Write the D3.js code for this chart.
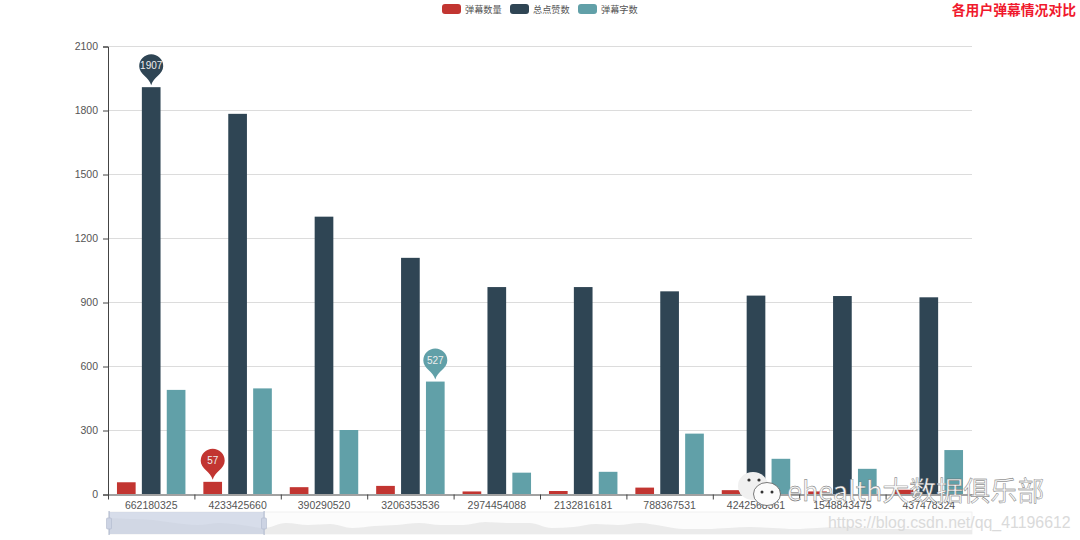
<!DOCTYPE html>
<html>
<head>
<meta charset="utf-8">
<script src="https://cdn.jsdelivr.net/npm/d3@7"></script>
<style>
  html, body { margin: 0; padding: 0; background: #fff; }
  svg { display: block; font-family: "Liberation Sans", "Noto Sans CJK SC", sans-serif; }
</style>
</head>
<body>
<svg width="1080" height="540"></svg>
<script>
const users = ["662180325", "4233425660", "390290520", "3206353536", "2974454088", "2132816181", "788367531", "4242568361", "1548843475", "437478324"];
const danmuCount = [55, 57, 32, 38, 12, 14, 30, 18, 12, 20];
const likeTotal = [1907, 1782, 1300, 1107, 970, 970, 950, 930, 928, 922];
const danmuChars = [488, 495, 300, 527, 100, 104, 283, 165, 118, 206];
const seriesNames = ["弹幕数量", "总点赞数", "弹幕字数"];
const seriesColors = ["#c23531", "#2f4554", "#61a0a8"];
const yTicks = [0, 300, 600, 900, 1200, 1500, 1800, 2100];
// overview strip of the slider, read left to right
const sliderShadow = [16, 15, 14, 11, 9, 11, 9, 6, 11, 9, 10, 6, 8, 9, 11, 9, 9, 12, 11, 11, 6, 7, 10, 9, 11, 8, 5, 5, 6, 7, 6, 5, 6, 7, 6, 5, 5, 4, 4, 4];

const svg = d3.select("svg");
const x0 = d3.scaleBand().domain(users).range([108, 972]);
const x1 = d3.scaleBand().domain(seriesNames).range([0, x0.bandwidth()]).paddingInner(0.25).paddingOuter(0.36);
const y = d3.scaleLinear().domain([0, 2100]).range([494, 46]);

// grid
svg.append("g").selectAll("line").data(yTicks.slice(1)).join("line")
  .attr("x1", 108).attr("x2", 972)
  .attr("y1", d => y(d) + 0.5).attr("y2", d => y(d) + 0.5)
  .attr("stroke", "#dcdcdc");

// bars
const allSeries = [danmuCount, likeTotal, danmuChars];
allSeries.forEach((values, s) => {
  svg.append("g").selectAll("rect").data(values).join("rect")
    .attr("x", (d, i) => x0(users[i]) + x1(seriesNames[s]))
    .attr("y", d => y(d))
    .attr("width", x1.bandwidth())
    .attr("height", d => y(0) - y(d))
    .attr("fill", seriesColors[s]);
});

// axes
const yAxis = d3.axisLeft(y).tickValues(yTicks).tickFormat(d3.format("d")).tickSize(5).tickPadding(5);
const gy = svg.append("g").attr("transform", "translate(108,0.5)").call(yAxis);
const xAxis = d3.axisBottom(x0).tickSize(0).tickPadding(7);
const gx = svg.append("g").attr("transform", "translate(0,494.5)").call(xAxis);
gx.append("g").selectAll("line").data(users).join("line")
  .attr("x1", d => x0(d) + 0.5).attr("x2", d => x0(d) + 0.5)
  .attr("y1", 0).attr("y2", 5).attr("stroke", "#444");
[gy, gx].forEach(g => {
  g.selectAll("text").attr("fill", "#555").attr("font-size", 10.5).attr("font-family", "Liberation Sans");
  g.selectAll(".domain").attr("stroke", "#444");
  g.selectAll(".tick line").attr("stroke", "#444");
});

// max markers
const pin = "M0,0 C-2,-8 -12,-11 -12,-19 A12,12 0 1 1 12,-19 C12,-11 2,-8 0,0 Z";
const markers = [
  { s: 1, i: 0, values: likeTotal },
  { s: 0, i: 1, values: danmuCount },
  { s: 2, i: 3, values: danmuChars }
];
markers.forEach(m => {
  const mx = x0(users[m.i]) + x1(seriesNames[m.s]) + x1.bandwidth() / 2;
  const my = y(m.values[m.i]) - 2;
  const g = svg.append("g").attr("transform", `translate(${mx},${my})`);
  g.append("path").attr("d", pin).attr("fill", seriesColors[m.s]);
  g.append("text").attr("y", -16).attr("text-anchor", "middle")
    .attr("fill", "#eee").attr("font-size", 10).text(m.values[m.i]);
});

// legend
const legendX = [442, 510, 578];
seriesNames.forEach((name, i) => {
  svg.append("rect").attr("x", legendX[i]).attr("y", 4).attr("width", 19).attr("height", 10).attr("rx", 3)
    .attr("fill", seriesColors[i]);
  svg.append("text").attr("x", legendX[i] + 23).attr("y", 12.5).attr("font-size", 9.2).attr("fill", "#555").text(name);
});

svg.append("text").attr("x", 1076).attr("y", 15).attr("text-anchor", "end")
  .attr("font-size", 13.8).attr("font-weight", "bold").attr("fill", "#f0192d").text("各用户弹幕情况对比");

// slider
const sx = d3.scalePoint().domain(d3.range(sliderShadow.length)).range([109, 972]);
const sy = d3.scaleLinear().domain([0, 18]).range([534, 516]);
svg.append("rect").attr("x", 109).attr("y", 512).attr("width", 863).attr("height", 22)
  .attr("fill", "#fcfcfc").attr("stroke", "#eeeeee").attr("stroke-width", 0.8);
svg.append("path")
  .attr("d", d3.area().x((d, i) => sx(i)).y0(534).y1(d => sy(d)).curve(d3.curveMonotoneX)(sliderShadow))
  .attr("fill", "#ebebeb");
svg.append("rect").attr("x", 109).attr("y", 512).attr("width", 155).attr("height", 22)
  .attr("fill", "#c3cce0").attr("opacity", 0.65);
[109, 264].forEach(h => {
  svg.append("rect").attr("x", h - 0.5).attr("y", 511).attr("width", 1.2).attr("height", 24).attr("fill", "#b4bdd0");
  svg.append("rect").attr("x", h - 2.5).attr("y", 518).attr("width", 5).attr("height", 11).attr("rx", 1)
    .attr("fill", "#ccd3e3").attr("stroke", "#b0b9cd").attr("stroke-width", 0.6);
});

// watermarks
const wm = svg.append("g");
const bubble = (cx, cy, rx, ry, fill) => wm.append("ellipse").attr("cx", cx).attr("cy", cy).attr("rx", rx).attr("ry", ry).attr("fill", fill);
bubble(753, 486, 15, 14, "#f0f0f0");
bubble(767, 494, 13.5, 11.5, "#fbfbfb").attr("stroke", "#444").attr("stroke-width", 0.7);
[[749, 480], [759, 480]].forEach(p => bubble(p[0], p[1], 1.6, 1.6, "#333"));
[[762, 492], [772, 492]].forEach(p => bubble(p[0], p[1], 1.5, 1.5, "#333"));
wm.append("text").attr("x", 787).attr("y", 501).attr("font-size", 27).attr("fill", "#f6f6f6")
  .attr("stroke", "#666").attr("stroke-width", 0.4)
  .attr("font-family", "Noto Sans CJK SC").text("ehealth大数据俱乐部");
wm.append("text").attr("x", 828).attr("y", 528).attr("font-size", 15.9).attr("fill", "#dadada")
  .text("https://blog.csdn.net/qq_41196612");
</script>
</body>
</html>
